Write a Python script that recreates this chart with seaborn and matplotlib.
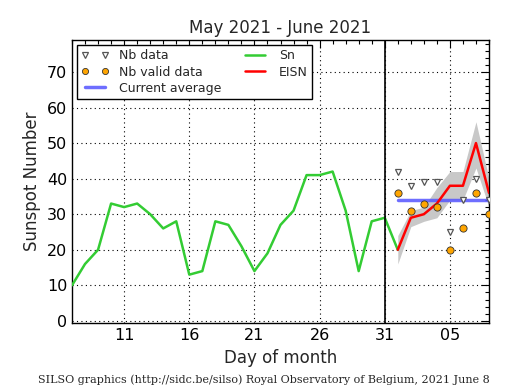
import numpy as np
import pandas as pd
import matplotlib
matplotlib.use("Agg")
import matplotlib.pyplot as plt
import matplotlib.dates as mdates
import seaborn as sns

# ---- data ----
sn_dates = pd.date_range("2021-05-07", "2021-06-01", freq="D")
sn_values = [10, 16, 20, 33, 32, 33, 30, 26, 28, 13, 14, 28, 27, 21, 14, 19,
             27, 31, 41, 41, 42, 31, 14, 28, 29, 20]

eisn_dates = pd.date_range("2021-06-01", "2021-06-08", freq="D")
eisn_values = [20, 29, 30, 33, 38, 38, 50, 36]
eisn_lower = [16, 26.5, 28, 29, 34, 34, 43, 32]
eisn_upper = [24, 31, 32, 37.5, 42, 42, 56, 40]
nb_data = [42, 38, 39, 39, 25, 34, 40, 34]
nb_valid = [36, 31, 33, 32, 20, 26, 36, 30]
current_average = 34

title = "May 2021 - June 2021"
xlabel = "Day of month"
ylabel = "Sunspot Number"
footer = "SILSO graphics (http://sidc.be/silso) Royal Observatory of Belgium, 2021 June 8"
major_tick_dates = pd.to_datetime(["2021-05-11", "2021-05-16", "2021-05-21",
                                   "2021-05-26", "2021-05-31", "2021-06-05"])

# ---- plot ----
sns.set_style("white")
plt.rcParams["font.family"] = ["DejaVu Sans"]

fig = plt.figure(figsize=(5.15, 3.9), dpi=100)
ax = fig.add_axes([72/515, 1-323/390, (489-72)/515, (323-40)/390])

sn_df = pd.DataFrame({"date": sn_dates, "value": sn_values})
ei_df = pd.DataFrame({"date": eisn_dates, "value": eisn_values,
                      "lo": eisn_lower, "hi": eisn_upper,
                      "nb": nb_data, "nbv": nb_valid})

ax.fill_between(ei_df["date"], ei_df["lo"], ei_df["hi"], color="#c8c8c8",
                lw=0, zorder=1)
sns.lineplot(data=sn_df, x="date", y="value", ax=ax, color="#33cc33", lw=1.8,
             label="Sn", zorder=3)
sns.lineplot(data=ei_df, x="date", y="value", ax=ax, color="red", lw=1.8,
             label="EISN", zorder=4)
ax.plot([eisn_dates[0], eisn_dates[-1]], [current_average, current_average],
        color="#5555ff", alpha=0.85, lw=2.5, label="Current average", zorder=2)
ax.plot(ei_df["date"], ei_df["nb"], ls="none", marker="v", ms=4.5,
        mfc="white", mec="#555555", mew=0.9, label="Nb data", zorder=5)
ax.plot(ei_df["date"], ei_df["nbv"], ls="none", marker="o", ms=5.2,
        mfc="orange", mec="#333333", mew=0.6, label="Nb valid data", zorder=5)

ax.axvline(pd.Timestamp("2021-05-31"), color="black", lw=1.2, zorder=3)

ax.set_xlim(pd.Timestamp("2021-05-07"), pd.Timestamp("2021-06-08"))
ax.set_ylim(-0.6, 79)
ax.xaxis.set_major_locator(matplotlib.ticker.FixedLocator(mdates.date2num(major_tick_dates)))
ax.xaxis.set_major_formatter(mdates.DateFormatter("%d"))
ax.xaxis.set_minor_locator(mdates.DayLocator())
ax.yaxis.set_major_locator(matplotlib.ticker.MultipleLocator(10))
ax.yaxis.set_minor_locator(matplotlib.ticker.MultipleLocator(2))
ax.tick_params(which="both", direction="in", top=True, right=True,
               colors="black", labelsize=11.5)
ax.tick_params(which="major", length=6, width=0.8)
ax.tick_params(which="minor", length=3, width=0.8)
ax.grid(True, which="major", color="black", ls=(0, (1, 3)), lw=0.8)
for s in ax.spines.values():
    s.set_color("black")
    s.set_linewidth(1.0)

ax.set_title(title, fontsize=12, pad=5)
ax.set_xlabel(xlabel, fontsize=12, labelpad=4.5)
ax.set_ylabel(ylabel, fontsize=12, labelpad=4)

handles, labels = ax.get_legend_handles_labels()
order = ["Nb data", "Nb valid data", "Current average", "Sn", "EISN"]
hmap = dict(zip(labels, handles))
leg = ax.legend([hmap[k] for k in order], order, loc="upper left", ncol=2,
                numpoints=2, fontsize=9, frameon=True, fancybox=False,
                edgecolor="black", framealpha=1, borderaxespad=0.4,
                columnspacing=1.6, handlelength=2.2, labelspacing=0.25,
                borderpad=0.35, markerscale=0.85)
leg.get_frame().set_linewidth(1.0)

fig.text(38/515, 1-380/390, footer, family="DejaVu Serif", fontsize=8.05,
         ha="left", va="center")

fig.savefig("out.png", dpi=100)
